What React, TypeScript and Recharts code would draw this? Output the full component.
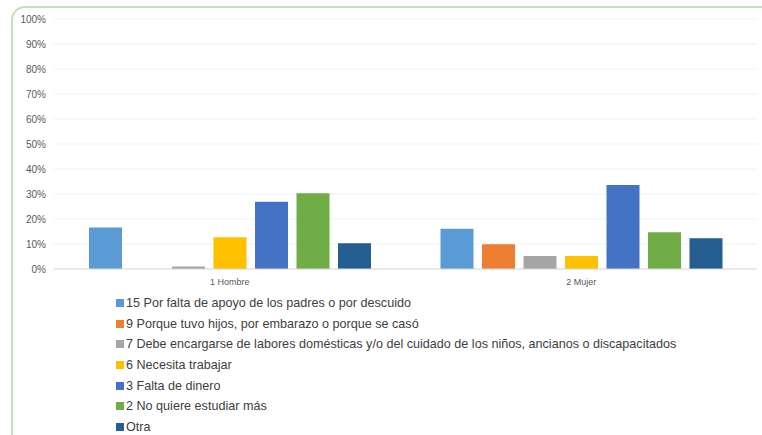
import { BarChart, Bar, XAxis, YAxis, CartesianGrid } from 'recharts';

const categories = ['1 Hombre', '2 Mujer'];

const seriesNames = [
  '15 Por falta de apoyo de los padres o por descuido',
  '9 Porque tuvo hijos, por embarazo o porque se casó',
  '7 Debe encargarse de labores domésticas y/o del cuidado de los niños, ancianos o discapacitados',
  '6 Necesita trabajar',
  '3 Falta de dinero',
  '2 No quiere estudiar más',
  'Otra',
];

// percentage values per series: [Hombre, Mujer]
const faltaApoyo = [16.6, 16.1];
const tuvoHijos = [0, 9.9];
const laboresDomesticas = [1, 5.2];
const necesitaTrabajar = [12.7, 5.2];
const faltaDinero = [26.9, 33.6];
const noQuiereEstudiar = [30.3, 14.7];
const otra = [10.3, 12.3];

const seriesValues = [
  faltaApoyo,
  tuvoHijos,
  laboresDomesticas,
  necesitaTrabajar,
  faltaDinero,
  noQuiereEstudiar,
  otra,
];

const colors = ['#5b9bd5', '#ed7d31', '#a5a5a5', '#ffc000', '#4472c4', '#70ad47', '#255e91'];

const yTicks = [0, 10, 20, 30, 40, 50, 60, 70, 80, 90, 100];

const data = categories.map((name, i) => {
  const row: Record<string, string | number> = { name };
  seriesValues.forEach((vals, s) => {
    row[`s${s}`] = vals[i];
  });
  return row;
});

const font = '"Liberation Sans", Arial, sans-serif';

export default function App() {
  return (
    <div
      style={{
        position: 'absolute',
        left: 0,
        top: 0,
        width: 762,
        height: 435,
        background: '#fff',
        overflow: 'hidden',
        fontFamily: font,
      }}
    >
      <div
        style={{
          position: 'absolute',
          left: 11,
          top: 6,
          width: 800,
          height: 480,
          border: '2px solid #c5e0b4',
          borderRadius: 14,
          boxSizing: 'border-box',
        }}
      />
      <div style={{ position: 'absolute', left: 0, top: 0 }}>
        <BarChart
          width={762}
          height={435}
          data={data}
          margin={{ top: 19, right: 5, left: 0, bottom: 146 }}
          barSize={33}
          barGap={8.5}
        >
          <CartesianGrid vertical={false} stroke="#edf2f9" />
          <XAxis
            dataKey="name"
            height={20}
            tickLine={false}
            axisLine={{ stroke: '#d9d9d9' }}
            tick={{ fontSize: 9, fill: '#595959', fontFamily: font }}
            tickMargin={4}
          />
          <YAxis
            width={54}
            domain={[0, 100]}
            ticks={yTicks}
            tickFormatter={(v) => `${v}%`}
            axisLine={false}
            tickLine={false}
            tick={{ fontSize: 10, fill: '#595959', fontFamily: font }}
            tickMargin={2}
          />
          {seriesNames.map((n, s) => (
            <Bar
              key={n}
              dataKey={`s${s}`}
              name={n}
              fill={colors[s]}
              isAnimationActive={false}
            />
          ))}
        </BarChart>
      </div>
      <div style={{ position: 'absolute', left: 116, top: 293 }}>
        {seriesNames.map((n, s) => (
          <div
            key={n}
            style={{
              display: 'flex',
              alignItems: 'center',
              height: 20.6,
              fontSize: 12.6,
              color: '#404040',
              whiteSpace: 'nowrap',
            }}
          >
            <span
              style={{
                display: 'inline-block',
                width: 8,
                height: 8,
                background: colors[s],
                marginRight: 2,
              }}
            />
            {n}
          </div>
        ))}
      </div>
    </div>
  );
}
